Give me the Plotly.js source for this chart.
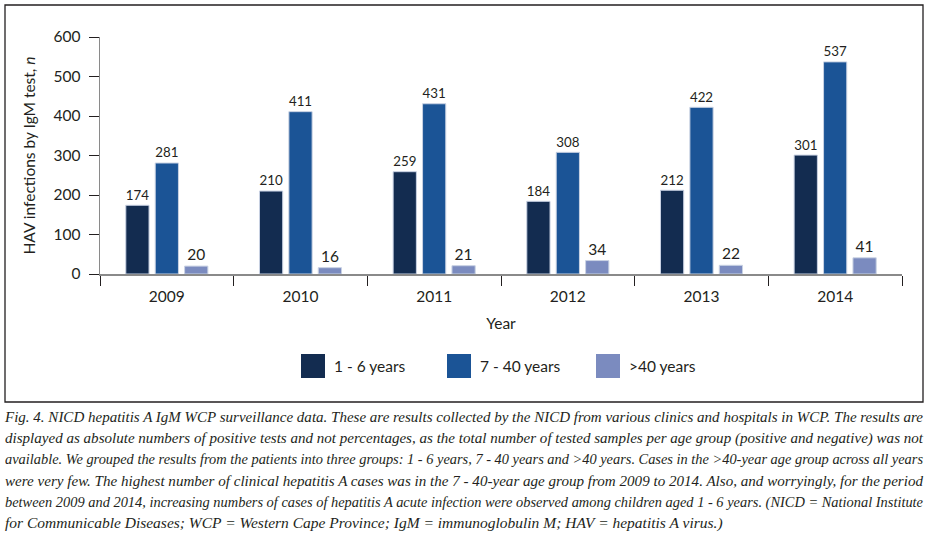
<!DOCTYPE html>
<html>
<head>
<meta charset="utf-8">
<script src="https://cdn.plot.ly/plotly-3.0.1.min.js"></script>
<style>
  html, body { margin: 0; padding: 0; background: #fff; }
  #wrap { position: relative; width: 929px; height: 548px; overflow: hidden; }
  #chart { position: absolute; left: 0; top: 0; width: 929px; height: 548px; }
  #caption { position: absolute; left: 5px; top: 406px; width: 918px;
    font-family: "Liberation Serif", "DejaVu Serif", serif; font-style: italic;
    font-size: 15.5px; line-height: 21.2px; color: #231f20; }
  #caption div { white-space: nowrap; height: 21.2px; }
  #caption span { display: inline-block; transform-origin: 0 50%; }
</style>
</head>
<body>
<div id="wrap">
  <div id="chart"></div>
  <div id="caption"></div>
</div>
<script>
// ---- data ----
const years = ["2009", "2010", "2011", "2012", "2013", "2014"];
const seriesNames = ["1 - 6 years", "7 - 40 years", ">40 years"];
const age1to6 = [174, 210, 259, 184, 212, 301];
const age7to40 = [281, 411, 431, 308, 422, 537];
const ageOver40 = [20, 16, 21, 34, 22, 41];
const yTicks = [0, 100, 200, 300, 400, 500, 600];
const captionLines = [
  "Fig. 4. NICD hepatitis A IgM WCP surveillance data. These are results collected by the NICD from various clinics and hospitals in WCP. The results are",
  "displayed as absolute numbers of positive tests and not percentages, as the total number of tested samples per age group (positive and negative) was not",
  "available. We grouped the results from the patients into three groups: 1 - 6 years, 7 - 40 years and >40 years. Cases in the >40-year age group across all years",
  "were very few. The highest number of clinical hepatitis A cases was in the 7 - 40-year age group from 2009 to 2014. Also, and worryingly, for the period",
  "between 2009 and 2014, increasing numbers of cases of hepatitis A acute infection were observed among children aged 1 - 6 years. (NICD = National Institute",
  "for Communicable Diseases; WCP = Western Cape Province; IgM = immunoglobulin M; HAV = hepatitis A virus.)"
];

// ---- styling ----
const colors = ["#132c50", "#1b5496", "#7b8bbf"];
const font = "Lato, 'Open Sans', sans-serif";
const txt = "#231f20";
const fs = 15.5;
const values = [age1to6, age7to40, ageOver40];

const traces = values.map((v, i) => ({
  type: "bar",
  name: seriesNames[i],
  x: years,
  y: v,
  text: v.map(String),
  textposition: "outside",
  cliponaxis: false,
  textfont: { family: font, size: fs, color: txt },
  marker: { color: colors[i], line: { color: "#c9d2e3", width: 1 } },
  showlegend: false,
  hoverinfo: "skip"
}));

// legend drawn as paper shapes + annotations (positions in px converted to paper)
const L = 100, R = 902, T = 37, B = 274;
const W = R - L, H = B - T;
const px = x => (x - L) / W;
const py = y => (B - y) / H;
const legendX = [301, 447, 596];
const shapes = [{
  type: "rect", xref: "paper", yref: "paper",
  x0: px(5), x1: px(923), y0: py(402), y1: py(5),
  line: { color: "#231f20", width: 1.3 }, fillcolor: "rgba(0,0,0,0)", layer: "below"
}];
const annotations = [];
seriesNames.forEach((n, i) => {
  shapes.push({
    type: "rect", xref: "paper", yref: "paper",
    x0: px(legendX[i]), x1: px(legendX[i] + 24), y0: py(378), y1: py(354),
    line: { width: 0 }, fillcolor: colors[i]
  });
  annotations.push({
    xref: "paper", yref: "paper", x: px(legendX[i] + 31), y: py(366),
    xanchor: "left", yanchor: "middle", showarrow: false,
    text: n, font: { family: font, size: fs, color: txt }
  });
});

const layout = {
  width: 929, height: 548,
  margin: { l: L, r: 929 - R, t: T, b: 548 - B, pad: 0 },
  paper_bgcolor: "#fff", plot_bgcolor: "#fff",
  barmode: "group", bargap: 0.34, bargroupgap: 0.21,
  font: { family: font, color: txt },
  xaxis: {
    type: "category",
    showline: true, linecolor: "#8a8a8a", linewidth: 1.5,
    ticks: "outside", tickson: "boundaries", ticklen: 10, tickcolor: "#231f20", tickwidth: 1,
    ticklabelstandoff: 8,
    tickfont: { family: font, size: fs, color: txt },
    showgrid: false, zeroline: false,
    title: { text: "Year", font: { family: font, size: fs, color: txt }, standoff: 14 }
  },
  yaxis: {
    range: [0, 600], tickvals: yTicks,
    showline: true, linecolor: "#8a8a8a", linewidth: 1.5,
    ticks: "outside", ticklen: 10, tickcolor: "#231f20", tickwidth: 1,
    ticklabelstandoff: 5,
    tickfont: { family: font, size: fs, color: txt },
    showgrid: false, zeroline: false,
    title: { text: "HAV infections by IgM test, <i>n</i>", font: { family: font, size: fs, color: txt }, standoff: 14 }
  },
  shapes: shapes,
  annotations: annotations
};

Plotly.newPlot("chart", traces, layout, { displayModeBar: false, staticPlot: true });

// caption: each line justified to the full width (last line left-aligned)
const cap = document.getElementById("caption");
const fullW = 918;
captionLines.forEach((line, i) => {
  const d = document.createElement("div");
  const s = document.createElement("span");
  s.textContent = line;
  d.appendChild(s);
  cap.appendChild(d);
  const w = s.getBoundingClientRect().width;
  const isLast = i === captionLines.length - 1;
  if (w > fullW) {
    s.style.transform = "scaleX(" + (fullW / w) + ")";
  } else if (!isLast) {
    const spaces = (line.match(/ /g) || []).length;
    s.style.wordSpacing = ((fullW - w) / spaces) + "px";
  }
});
</script>
</body>
</html>
